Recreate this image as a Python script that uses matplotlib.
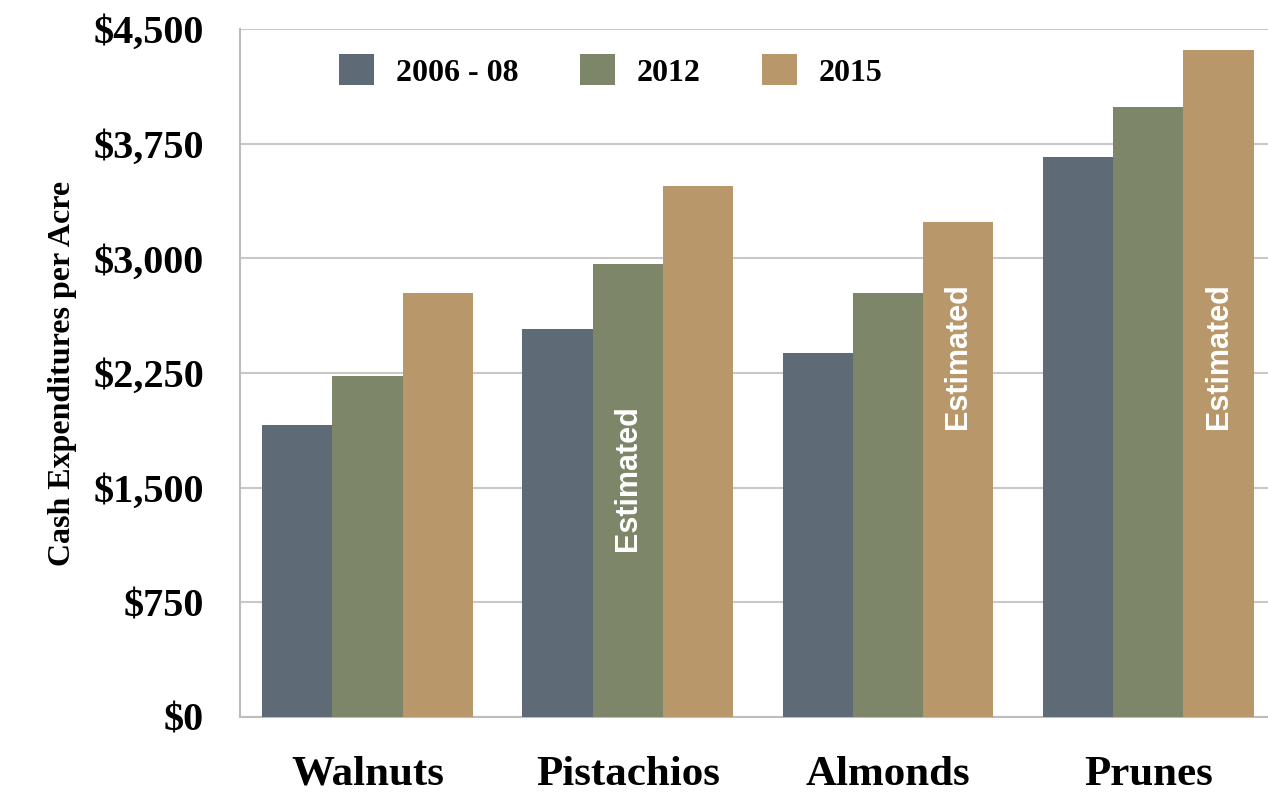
import numpy as np
import matplotlib
matplotlib.use('Agg')
import matplotlib.pyplot as plt

# data
crops   = ['Walnuts', 'Pistachios', 'Almonds', 'Prunes']
series  = ['2006 - 08', '2012', '2015']
v_0608  = [1910, 2540, 2380, 3660]
v_2012  = [2230, 2960, 2770, 3990]
v_2015  = [2770, 3470, 3240, 4360]
y_ticks = [0, 750, 1500, 2250, 3000, 3750, 4500]

# "Estimated" notes: (crop index, series index, y value)
notes   = [(1, 1, 1560), (2, 2, 2360), (3, 2, 2360)]

colors  = ['#5e6a76', '#7e8669', '#b8986b']
serif   = ['Liberation Serif', 'DejaVu Serif']

fig = plt.figure(figsize=(12.68, 7.97), dpi=100)
ax  = fig.add_axes([0.1893, 0.1004, 0.8107, 0.8632])

x = np.arange(len(crops))
w = 0.27
values = [v_0608, v_2012, v_2015]
for i, vals in enumerate(values):
    ax.bar(x + (i - 1) * w, vals, width=w, color=colors[i], label=series[i],
           zorder=3, edgecolor='none')

for ci, si, yv in notes:
    ax.text(x[ci] + (si - 1) * w, yv, 'Estimated', rotation=90, color='white',
            ha='center', va='center', fontsize=22, fontweight='bold',
            family=['Liberation Sans', 'DejaVu Sans'], zorder=4)

ax.set_ylim(0, 4500)
ax.set_xlim(-0.49, 3.46)
ax.set_yticks(y_ticks)
ax.set_yticklabels(['$' + format(t, ',') for t in y_ticks])
ax.set_xticks(x)
ax.set_xticklabels(crops)
ax.grid(axis='y', color='#c8c8c8', linewidth=1.5, zorder=0)
ax.tick_params(axis='both', length=0)
ax.tick_params(axis='y', pad=26)
ax.tick_params(axis='x', pad=28)
for lab in ax.get_yticklabels():
    lab.set_family(serif)
    lab.set_fontweight('bold')
    lab.set_fontsize(29)
for lab in ax.get_xticklabels():
    lab.set_family(serif)
    lab.set_fontweight('bold')
    lab.set_fontsize(31)

for s in ['top', 'right']:
    ax.spines[s].set_visible(False)
for s in ['left', 'bottom']:
    ax.spines[s].set_color('#bdbdbd')
    ax.spines[s].set_linewidth(1.5)

ax.set_ylabel('Cash Expenditures per Acre', family=serif, fontweight='bold',
              fontsize=23, labelpad=12)

leg = ax.legend(loc='upper left', bbox_to_anchor=(0.068, 1.005), ncol=3,
                frameon=False, handlelength=1.1, handleheight=1.1,
                columnspacing=1.9, handletextpad=0.7,
                prop={'family': serif, 'weight': 'bold', 'size': 23})

fig.savefig('out.png', dpi=100)
